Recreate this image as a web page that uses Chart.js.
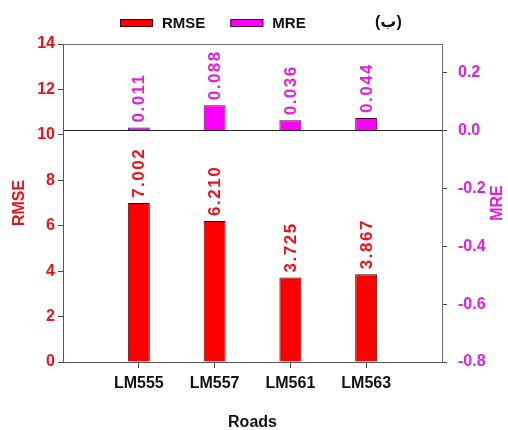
<!DOCTYPE html>
<html>
<head>
<meta charset="utf-8">
<script src="https://cdn.jsdelivr.net/npm/chart.js@4/dist/chart.umd.min.js"></script>
<style>
  html, body { margin: 0; padding: 0; background: #ffffff; }
  #wrap { width: 508px; height: 430px; }
</style>
</head>
<body>
<div id="wrap"><canvas id="c" width="508" height="430"></canvas></div>
<script>
// Error statistics per road section
const roads = ['LM555', 'LM557', 'LM561', 'LM563'];
const rmse = [7.002, 6.210, 3.725, 3.867];
const mre = [0.011, 0.088, 0.036, 0.044];
const rmseTicks = [0, 2, 4, 6, 8, 10, 12, 14];
const mreTicks = [-0.8, -0.6, -0.4, -0.2, 0.0, 0.2];
const panelTag = '(ب)';

const FONT = '"Liberation Sans", Arial, "DejaVu Sans", sans-serif';
const RED = '#ff0000';
const MAGENTA = '#ff00ff';
const RED_TEXT = '#e8131b';
const MAG_TEXT = '#dd22dd';

// empty slots at both ends leave one category of space on each side
const slots = [''].concat(roads, ['']);
const pad = arr => [null].concat(arr, [null]);

// rotated value labels above each bar
const valueLabels = {
  id: 'valueLabels',
  afterDatasetsDraw(chart) {
    const ctx = chart.ctx;
    chart.data.datasets.forEach((ds, i) => {
      const meta = chart.getDatasetMeta(i);
      meta.data.forEach((bar, j) => {
        const v = ds.data[j];
        if (v === null || v === undefined) return;
        ctx.save();
        ctx.translate(bar.x, bar.y - 5);
        ctx.rotate(-Math.PI / 2);
        ctx.font = 'bold 17px ' + FONT;
        if ('letterSpacing' in ctx) ctx.letterSpacing = '1.5px';
        ctx.fillStyle = ds.labelColor;
        ctx.textAlign = 'left';
        ctx.textBaseline = 'middle';
        ctx.fillText(v.toFixed(3), 0, 1);
        ctx.restore();
      });
    });
  }
};

// legend row across the top: swatch, name, then the panel tag
const legendRow = {
  id: 'legendRow',
  afterDraw(chart) {
    const ctx = chart.ctx;
    const y = 23;
    let x = 120;
    ctx.save();
    ctx.font = 'bold 15px ' + FONT;
    ctx.textBaseline = 'middle';
    ctx.textAlign = 'left';
    chart.data.datasets.forEach(ds => {
      ctx.fillStyle = ds.backgroundColor;
      ctx.fillRect(x, y - 4, 33, 8);
      ctx.strokeStyle = ds.borderColor;
      ctx.lineWidth = 1;
      ctx.strokeRect(x + 0.5, y - 3.5, 32, 7);
      x += 33 + 9;
      ctx.fillStyle = '#111111';
      ctx.fillText(ds.label, x, y + 1);
      x += ctx.measureText(ds.label).width + 25;
    });
    ctx.fillStyle = '#111111';
    ctx.font = 'bold 16px ' + FONT;
    ctx.fillText(panelTag, 375, y);
    ctx.restore();
  }
};

// top frame line and the right-hand axis title
const frame = {
  id: 'frame',
  afterDraw(chart) {
    const ctx = chart.ctx;
    const a = chart.chartArea;
    ctx.save();
    ctx.strokeStyle = '#6e6e6e';
    ctx.lineWidth = 1;
    ctx.beginPath();
    ctx.moveTo(a.left, a.top + 0.5);
    ctx.lineTo(a.right, a.top + 0.5);
    ctx.stroke();
    const s = chart.scales.y2;
    ctx.translate(s.right - 10, (a.top + a.bottom) / 2);
    ctx.rotate(-Math.PI / 2);
    ctx.font = 'bold 16px ' + FONT;
    ctx.fillStyle = MAG_TEXT;
    ctx.textAlign = 'center';
    ctx.textBaseline = 'middle';
    ctx.fillText('MRE', 0, 0);
    ctx.restore();
  }
};

new Chart(document.getElementById('c'), {
  type: 'bar',
  data: {
    labels: slots,
    datasets: [
      {
        label: 'RMSE',
        data: pad(rmse),
        yAxisID: 'y',
        backgroundColor: RED,
        borderColor: '#4a0000',
        borderWidth: 1,
        labelColor: RED_TEXT,
        grouped: false,
        barPercentage: 0.29,
        categoryPercentage: 1
      },
      {
        label: 'MRE',
        data: pad(mre),
        yAxisID: 'y2',
        backgroundColor: MAGENTA,
        borderColor: '#4a0040',
        borderWidth: 1,
        labelColor: MAG_TEXT,
        grouped: false,
        barPercentage: 0.29,
        categoryPercentage: 1
      }
    ]
  },
  options: {
    responsive: false,
    animation: false,
    devicePixelRatio: 1,
    layout: { padding: { top: 44, left: 0, right: 0, bottom: 0 } },
    plugins: {
      tooltip: { enabled: false },
      legend: { display: false }
    },
    scales: {
      x: {
        type: 'category',
        offset: false,
        grid: {
          offset: false,
          drawOnChartArea: false,
          drawTicks: true,
          tickLength: 6,
          tickColor: c => (c.index === 0 || c.index === slots.length - 1) ? 'rgba(0,0,0,0)' : '#444444'
        },
        border: { color: '#555555', width: 1 },
        ticks: {
          color: '#111111',
          font: { family: FONT, size: 16, weight: 'bold' },
          padding: 6,
          autoSkip: false,
          maxRotation: 0
        },
        title: {
          display: true,
          text: 'Roads',
          color: '#111111',
          font: { family: FONT, size: 16, weight: 'bold' },
          padding: { top: 20, bottom: -2 }
        },
        afterFit(s) { s.height = 68; }
      },
      y: {
        position: 'left',
        min: 0,
        max: 14,
        afterBuildTicks(s) { s.ticks = rmseTicks.map(v => ({ value: v })); },
        grid: { drawOnChartArea: false, drawTicks: true, tickLength: 5, tickColor: '#444444' },
        border: { color: '#555555', width: 1 },
        ticks: {
          color: RED_TEXT,
          font: { family: FONT, size: 16, weight: 'bold' },
          padding: 3
        },
        title: {
          display: true,
          text: 'RMSE',
          color: RED_TEXT,
          font: { family: FONT, size: 16, weight: 'bold' },
          padding: { top: 10, bottom: 4 }
        },
        afterFit(s) { s.width = 63; }
      },
      y2: {
        position: 'right',
        min: -0.8,
        max: 0.3,
        afterBuildTicks(s) { s.ticks = mreTicks.map(v => ({ value: v })); },
        grid: {
          drawOnChartArea: true,
          drawTicks: true,
          tickLength: 5,
          tickColor: '#444444',
          color: c => (c.tick && Math.abs(c.tick.value) < 1e-9) ? '#222222' : 'rgba(0,0,0,0)'
        },
        border: { color: '#6e6e6e', width: 1 },
        ticks: {
          color: MAG_TEXT,
          font: { family: FONT, size: 16, weight: 'bold' },
          padding: 11,
          callback: v => Number(v).toFixed(1)
        },
        afterFit(s) { s.width = 66; }
      }
    }
  },
  plugins: [valueLabels, legendRow, frame]
});
</script>
</body>
</html>
